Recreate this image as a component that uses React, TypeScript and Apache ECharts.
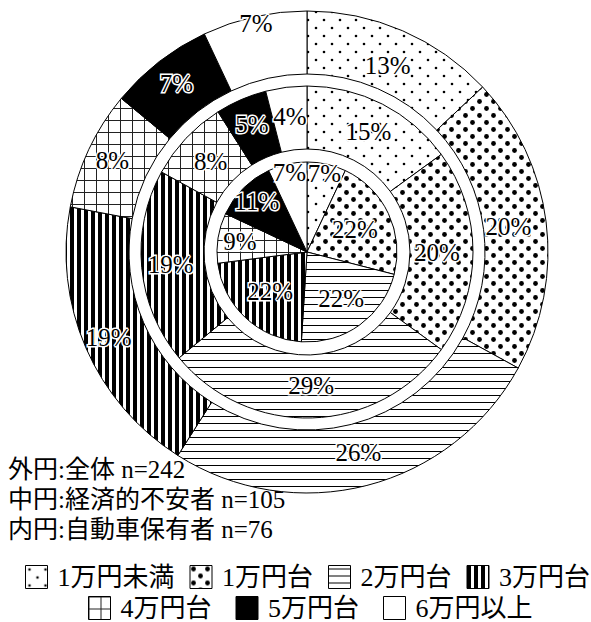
import React, { useEffect, useRef } from 'react';
import * as echarts from 'echarts';

// ---- data ----
const categories = ['1万円未満', '1万円台', '2万円台', '3万円台', '4万円台', '5万円台', '6万円以上'];
const outerValues = [13, 20, 26, 19, 8, 7, 7]; // 外円: 全体 n=242
const middleValues = [15, 20, 29, 19, 8, 5, 4]; // 中円: 経済的不安者 n=105
const innerValues = [7, 22, 22, 22, 9, 11, 7]; // 内円: 自動車保有者 n=76
const seriesNames = ['全体', '経済的不安者', '自動車保有者'];
const noteLines = ['外円:全体 n=242', '中円:経済的不安者 n=105', '内円:自動車保有者 n=76'];
const legendRow1 = categories.slice(0, 4);
const legendRow2 = categories.slice(4);

// ---- layout / style ----
const FONT = "'Liberation Serif', 'Noto Sans CJK JP', serif";
const CX = 307;
const CY = 252;
const outerLabelR = [203, 203, 207, 216, 215, 213, 234];
const middleLabelR = [135, 130, 134, 137, 132, 139, 137];
const innerLabelR = [80, 53, 58, 54, 68, 71, 81];

function tile(w: number, h: number, draw: (ctx: CanvasRenderingContext2D) => void) {
  const c = document.createElement('canvas');
  c.width = w;
  c.height = h;
  const ctx = c.getContext('2d')!;
  ctx.fillStyle = '#fff';
  ctx.fillRect(0, 0, w, h);
  ctx.fillStyle = '#000';
  draw(ctx);
  return c;
}

function dot(ctx: CanvasRenderingContext2D, x: number, y: number, r: number) {
  ctx.beginPath();
  ctx.arc(x, y, r, 0, Math.PI * 2);
  ctx.fill();
}

function makeFills(): any[] {
  const sparse = tile(16, 16, (ctx) => {
    dot(ctx, 4, 4, 1.3);
    dot(ctx, 12, 12, 1.3);
  });
  const dense = tile(14, 14, (ctx) => {
    dot(ctx, 3.5, 3.5, 2.4);
    dot(ctx, 10.5, 10.5, 2.4);
  });
  const hline = tile(8, 7, (ctx) => ctx.fillRect(0, 3, 8, 1));
  const vline = tile(7, 8, (ctx) => ctx.fillRect(0, 0, 4, 8));
  const grid = tile(12, 12, (ctx) => {
    ctx.fillStyle = '#222';
    ctx.fillRect(0, 0, 12, 1);
    ctx.fillRect(0, 0, 1, 12);
  });
  return [
    { image: sparse, repeat: 'repeat' },
    { image: dense, repeat: 'repeat' },
    { image: hline, repeat: 'repeat' },
    { image: vline, repeat: 'repeat' },
    { image: grid, repeat: 'repeat' },
    '#000',
    '#fff',
  ];
}

function midAngles(vals: number[]) {
  const total = vals.reduce((a, b) => a + b, 0);
  let acc = 0;
  return vals.map((v) => {
    const a = ((acc + v / 2) / total) * Math.PI * 2;
    acc += v;
    return a;
  });
}

function makeSeries(name: string, values: number[], radius: number[], labelR: number[], fills: any[]) {
  const mids = midAngles(values);
  return {
    type: 'pie',
    name,
    radius,
    center: [CX, CY],
    startAngle: 90,
    clockwise: true,
    silent: true,
    avoidLabelOverlap: false,
    emphasis: { disabled: true },
    data: values.map((v, i) => ({
      name: categories[i],
      value: v,
      itemStyle: { color: fills[i] },
    })),
    itemStyle: { borderColor: '#000', borderWidth: 1 },
    label: {
      show: true,
      position: 'inside',
      formatter: '{c}%',
      fontFamily: FONT,
      fontSize: 25,
      color: '#000',
      textBorderColor: '#fff',
      textBorderWidth: 3,
    },
    labelLine: { show: false },
    labelLayout: (p: any) => {
      const a = mids[p.dataIndex];
      const r = labelR[p.dataIndex];
      return { x: CX + r * Math.sin(a), y: CY - r * Math.cos(a) };
    },
  };
}

export default function App() {
  const ref = useRef<HTMLDivElement>(null);
  useEffect(() => {
    document.body.style.margin = '0';
    if (!ref.current) return;
    const chart = echarts.init(ref.current, null, { renderer: 'svg' });
    const fills = makeFills();
    const legendBase = {
      orient: 'horizontal',
      icon: 'rect',
      itemWidth: 22,
      itemHeight: 23,
      selectedMode: false,
      padding: 0,
      itemStyle: { borderColor: '#000', borderWidth: 1 },
      textStyle: { fontFamily: FONT, fontSize: 26, color: '#000', padding: [0, 0, 0, 5] },
    };
    chart.setOption({
      animation: false,
      backgroundColor: '#fff',
      legend: [
        { ...legendBase, data: legendRow1, left: 25, top: 564, itemGap: 15 },
        { ...legendBase, data: legendRow2, left: 88, top: 595, itemGap: 24 },
      ],
      graphic: noteLines.map((t, i) => ({
        type: 'text',
        left: 8,
        top: 457 + i * 30,
        style: { text: t, fontFamily: FONT, fontSize: 25, fill: '#000' },
      })),
      series: [
        makeSeries(seriesNames[0], outerValues, [178, 241], outerLabelR, fills),
        makeSeries(seriesNames[1], middleValues, [103, 166], middleLabelR, fills),
        makeSeries(seriesNames[2], innerValues, [0, 90], innerLabelR, fills),
      ],
    });
    return () => chart.dispose();
  }, []);
  return <div ref={ref} style={{ width: 591, height: 622 }} />;
}
